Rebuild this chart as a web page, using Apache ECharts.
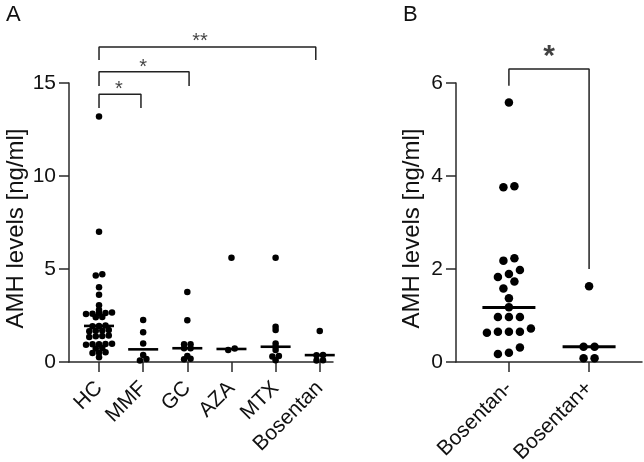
<!DOCTYPE html>
<html>
<head>
<meta charset="utf-8">
<script src="https://cdn.jsdelivr.net/npm/echarts@6/dist/echarts.min.js"></script>
<style>html,body{margin:0;padding:0;background:#fff}#c{width:644px;height:462px}</style>
</head>
<body>
<div id="c"></div>
<script>
// ---------- data ----------
const catsA = ['HC', 'MMF', 'GC', 'AZA', 'MTX', 'Bosentan'];
const valsHC = [0.25, 0.48, 0.5, 0.52, 0.72, 0.75, 0.93, 0.95, 0.96, 0.97, 0.98,
  1.35, 1.38, 1.4, 1.42, 1.65, 1.68, 1.7, 1.72, 1.92, 1.94, 1.96, 2.4, 2.42,
  2.58, 2.6, 2.62, 2.64, 2.66, 2.8, 3.05, 3.62, 4.02, 4.65, 4.72, 7.0, 13.2];
const valsMMF = [0.08, 0.16, 0.38, 1.0, 1.6, 2.26];
const valsGC = [0.15, 0.18, 0.32, 0.74, 0.74, 0.95, 0.95, 2.24, 3.76];
const valsAZA = [0.65, 0.72, 5.6];
const valsMTX = [0.1, 0.29, 0.32, 0.65, 0.82, 1.0, 1.72, 1.9, 5.6];
const valsBos = [0.08, 0.1, 0.36, 0.38, 1.67];
const mediansA = [1.94, 0.68, 0.74, 0.7, 0.82, 0.37];
const yTicksA = [0, 5, 10, 15];

const catsB = ['Bosentan-', 'Bosentan+'];
const valsBminus = [0.17, 0.2, 0.31, 0.63, 0.65, 0.65, 0.65, 0.72, 0.97, 0.97, 0.97,
  1.18, 1.37, 1.58, 1.73, 1.83, 1.89, 1.98, 2.18, 2.23, 3.76, 3.78, 5.58];
const valsBplus = [0.08, 0.08, 0.33, 0.33, 1.63];
const mediansB = [1.17, 0.33];
const yTicksB = [0, 2, 4, 6];

// significance brackets: from/to (x units), top, left/right drop ends (y units)
const bracketsA = [
  {x0: 0, x1: 0.95, top: 14.4, y0: 13.65, y1: 13.65, text: '*', tx: 0.45, ty: 14.65},
  {x0: 0, x1: 2.04, top: 15.6, y0: 14.84, y1: 14.84, text: '*', tx: 1.0, ty: 15.85},
  {x0: 0, x1: 4.91, top: 16.94, y0: 16.24, y1: 16.24, text: '**', tx: 2.29, ty: 17.25}
];
const bracketsB = [
  {x0: 0, x1: 1, top: 6.3, y0: 5.94, y1: 2.0, text: '*', tx: 0.5, ty: 6.56}
];

// ---------- layout helpers ----------
const gA = {left: 69, top: 83, width: 264, height: 279, xmin: -0.68, xmax: 5.3, ymax: 15};
const gB = {left: 456, top: 83, width: 186, height: 279, xmin: -0.66, xmax: 1.66, ymax: 6};
function pxX(g) { return g.width / (g.xmax - g.xmin); }
function pxY(g) { return g.height / g.ymax; }

function swarm(values, idx, g, spacingPx, threshPx) {
  const s = values.slice().sort((a, b) => a - b);
  const out = [];
  let i = 0;
  const px = pxX(g), py = pxY(g);
  while (i < s.length) {
    const start = s[i];
    const row = [];
    while (i < s.length && (s[i] - start) * py <= threshPx) { row.push(s[i]); i++; }
    const n = row.length;
    row.forEach((v, k) => {
      const off = (k - (n - 1) / 2) * spacingPx;
      out.push([idx + off / px, v]);
    });
  }
  return out;
}

const groupsA = [valsHC, valsMMF, valsGC, valsAZA, valsMTX, valsBos];
const groupsB = [valsBminus, valsBplus];
let ptsA = [];
groupsA.forEach((vals, i) => { ptsA = ptsA.concat(swarm(vals, i, gA, 6.5, 3)); });
let ptsB = [];
groupsB.forEach((vals, i) => { ptsB = ptsB.concat(swarm(vals, i, gB, 11, 8)); });

const FONT = 'Liberation Sans, Arial, sans-serif';
const axisLineStyle = {color: '#2a2a2a', width: 1.5};

function xAxisCfg(cats, g, gridIndex) {
  const vals = cats.map((c, i) => i);
  return {
    type: 'value', gridIndex: gridIndex, min: g.xmin, max: g.xmax,
    splitLine: {show: false},
    axisLine: {show: true, onZero: false, lineStyle: axisLineStyle},
    axisTick: {show: true, length: 10, lineStyle: axisLineStyle, customValues: vals},
    axisLabel: {
      show: true, customValues: vals, rotate: 45, margin: 23,
      fontSize: 21, fontFamily: FONT, color: '#111',
      formatter: v => cats[Math.round(v)]
    }
  };
}
function yAxisCfg(ticks, g, gridIndex, gap) {
  return {
    type: 'value', gridIndex: gridIndex, min: 0, max: g.ymax,
    interval: ticks[1] - ticks[0],
    name: 'AMH levels [ng/ml]', nameLocation: 'middle', nameGap: gap,
    nameTextStyle: {fontSize: 24, fontFamily: FONT, color: '#111', padding: [0, 12, 0, 0]},
    splitLine: {show: false},
    axisLine: {show: true, onZero: false, lineStyle: axisLineStyle},
    axisTick: {show: true, length: 10, lineStyle: axisLineStyle},
    axisLabel: {fontSize: 21, fontFamily: FONT, color: '#111', margin: 13}
  };
}

const series = [];
function addBrackets(brs, ai, fontSize, bold) {
  brs.forEach(b => {
    series.push({
      type: 'line', xAxisIndex: ai, yAxisIndex: ai, clip: false, silent: true,
      symbol: 'none', animation: false,
      lineStyle: {color: '#222', width: 1.5},
      data: [[b.x0, b.y0], [b.x0, b.top], [b.x1, b.top], [b.x1, b.y1]]
    });
    series.push({
      type: 'scatter', xAxisIndex: ai, yAxisIndex: ai, clip: false, silent: true,
      symbolSize: 1, itemStyle: {color: 'rgba(0,0,0,0)'}, animation: false,
      label: {show: true, position: 'inside', formatter: '{b}', fontSize: fontSize,
        fontWeight: bold ? 'bold' : 'normal', fontFamily: FONT, color: '#111'},
      data: [{name: b.text, value: [b.tx, b.ty]}]
    });
  });
}

series.push({
  type: 'scatter', xAxisIndex: 0, yAxisIndex: 0, symbolSize: 6.5, animation: false,
  itemStyle: {color: '#000', opacity: 1}, data: ptsA, z: 3
});
series.push({
  type: 'scatter', xAxisIndex: 0, yAxisIndex: 0, symbol: 'rect', symbolSize: [30, 2.6],
  animation: false, itemStyle: {color: '#000', opacity: 1}, z: 4,
  data: mediansA.map((m, i) => [i, m])
});
series.push({
  type: 'scatter', xAxisIndex: 1, yAxisIndex: 1, symbolSize: 8.5, animation: false,
  itemStyle: {color: '#000', opacity: 1}, data: ptsB, z: 3
});
series.push({
  type: 'scatter', xAxisIndex: 1, yAxisIndex: 1, symbol: 'rect', symbolSize: [53, 3],
  animation: false, itemStyle: {color: '#000', opacity: 1}, z: 4,
  data: mediansB.map((m, i) => [i, m])
});
addBrackets(bracketsA, 0, 20, false);
addBrackets(bracketsB, 1, 30, true);

const chart = echarts.init(document.getElementById('c'), null, {renderer: 'canvas'});
chart.setOption({
  backgroundColor: '#fff',
  animation: false,
  title: [
    {text: 'A', left: 1, top: -1, textStyle: {fontSize: 22, fontWeight: 'normal', fontFamily: FONT, color: '#111'}},
    {text: 'B', left: 398, top: -1, textStyle: {fontSize: 22, fontWeight: 'normal', fontFamily: FONT, color: '#111'}}
  ],
  grid: [
    {left: gA.left, top: gA.top, width: gA.width, height: gA.height, outerBoundsMode: 'none', containLabel: false},
    {left: gB.left, top: gB.top, width: gB.width, height: gB.height, outerBoundsMode: 'none', containLabel: false}
  ],
  xAxis: [xAxisCfg(catsA, gA, 0), xAxisCfg(catsB, gB, 1)],
  yAxis: [yAxisCfg(yTicksA, gA, 0, 40), yAxisCfg(yTicksB, gB, 1, 32)],
  series: series
});
</script>
</body>
</html>
